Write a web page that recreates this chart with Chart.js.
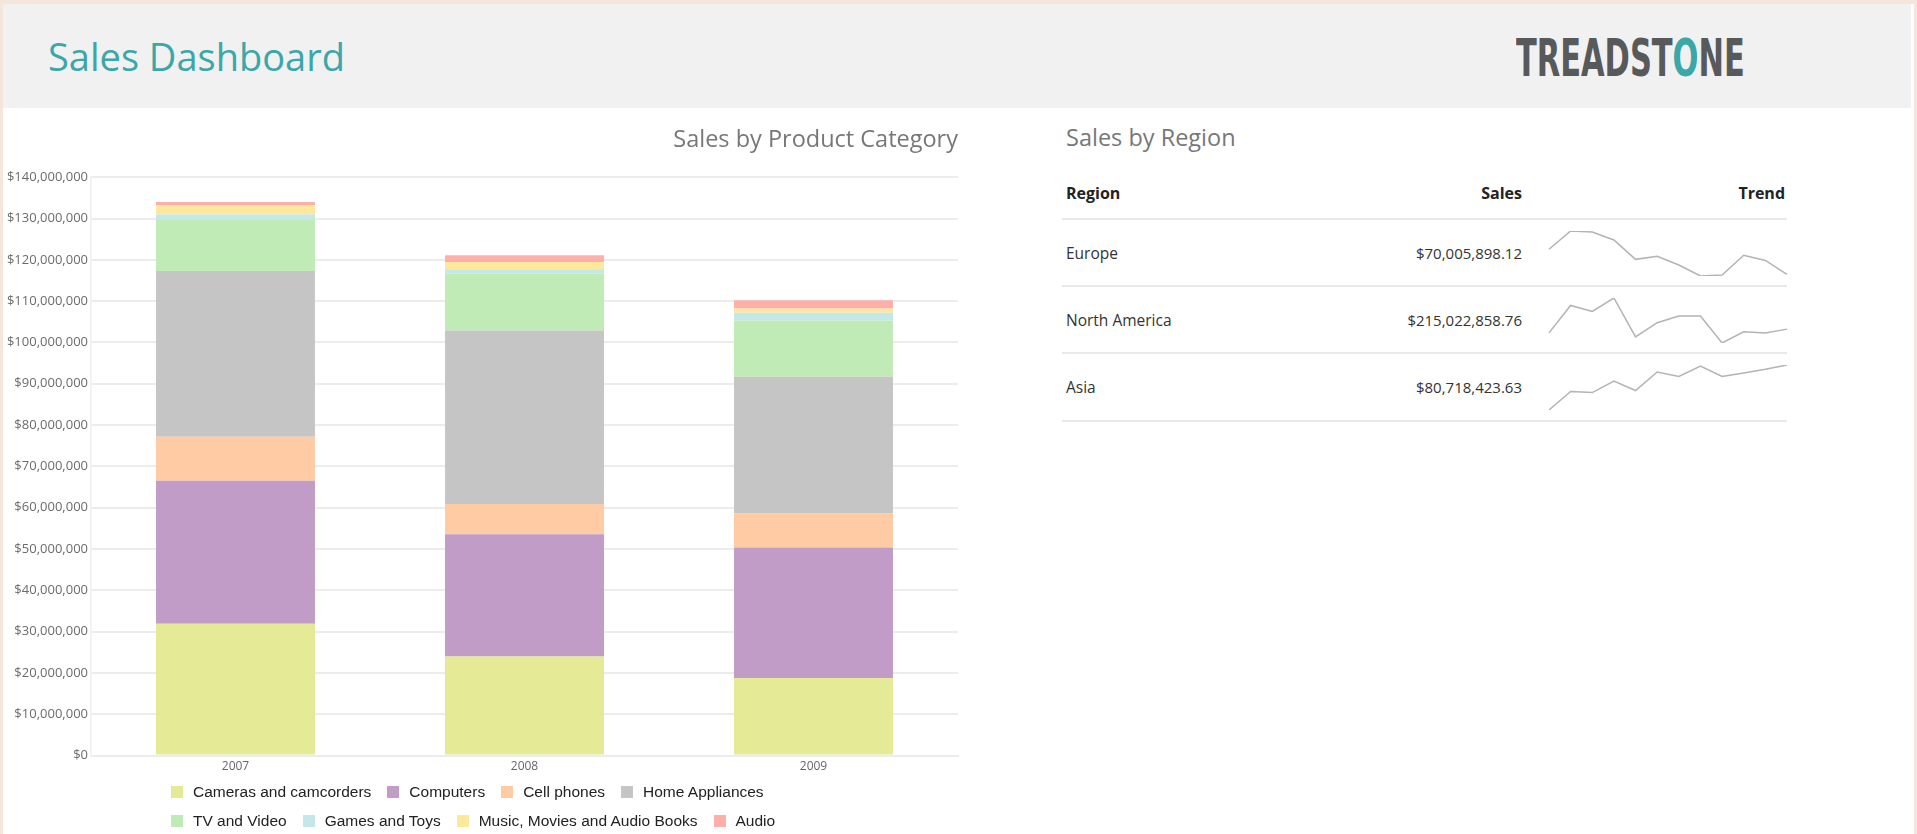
<!DOCTYPE html>
<html>
<head>
<meta charset="utf-8">
<title>Sales Dashboard</title>
<script src="https://cdn.jsdelivr.net/npm/chart.js@4.4.1/dist/chart.umd.min.js"></script>
<style>
  html, body { margin: 0; padding: 0; background: #fff; overflow: hidden; }
  body { width: 1917px; height: 834px; position: relative; font-family: 'Open Sans', sans-serif; }
  .frame { position: absolute; left: 0; top: 0; width: 1917px; height: 834px; box-sizing: border-box;
           border-top: 4px solid #f4e6da; border-left: 3px solid #f4e6da; border-right: 3px solid #f4e6da; }
  .header { position: absolute; left: 3px; top: 4px; width: 1908px; height: 104px; background: #f1f1f1; }
  .title { position: absolute; left: 45px; top: 27px; height: 50px; line-height: 50px; font-size: 38px; color: #3aa7a8; }
  .logo { position: absolute; left: 1513px; top: 29px; height: 52px; line-height: 52px; font-size: 51px;
          font-family: 'DejaVu Sans Condensed', 'DejaVu Sans', sans-serif; font-weight: bold; color: #58595b;
          transform-origin: 0 50%; white-space: nowrap; }
  .logo span { color: #3aa7a8; }
  .txt { position: absolute; height: 30px; line-height: 30px; white-space: nowrap; }
  .right { text-align: right; }
  .hline { position: absolute; left: 1062px; width: 725px; height: 2px; background: #e9e9e9; }
  .spark { position: absolute; left: 1548px; width: 240px; height: 47px; }
  #barBox { position: absolute; left: 3px; top: 116px; width: 960px; height: 662px; }
  #legend { position: absolute; left: 171px; top: 777px; width: 640px; display: flex; flex-wrap: wrap;
            font-family: 'Liberation Sans', Arial, sans-serif; font-size: 15.5px; color: #222; }
  #legend .item { display: flex; align-items: center; height: 29px; margin-right: 16px; white-space: nowrap; }
  #legend .box { width: 12px; height: 12px; margin-right: 10px; }
</style>
</head>
<body>
<div class="frame"></div>
<div class="header">
  <div class="title">Sales Dashboard</div>
  <div class="logo" id="logo">TREADST<span>O</span>NE</div>
</div>

<div id="barBox"><canvas id="salesByCategory"></canvas></div>
<div id="legend"></div>

<div class="txt" style="left:1066px; top:122px; font-size:23.5px; color:#777;">Sales by Region</div>
<div class="txt" style="left:1066px; top:178px; font-size:16px; font-weight:bold; color:#222;">Region</div>
<div class="txt right" style="left:1322px; width:200px; top:178px; font-size:16px; font-weight:bold; color:#222;">Sales</div>
<div class="txt right" style="left:1585px; width:200px; top:178px; font-size:16px; font-weight:bold; color:#222;">Trend</div>
<div id="regionRows"></div>

<script>
const years = ['2007', '2008', '2009'];
const categoryNames = ['Cameras and camcorders', 'Computers', 'Cell phones', 'Home Appliances',
  'TV and Video', 'Games and Toys', 'Music, Movies and Audio Books', 'Audio'];
const camerasAndCamcorders = [31900000, 24000000, 18800000];
const computers = [34600000, 29600000, 31600000];
const cellPhones = [10700000, 7300000, 8200000];
const homeAppliances = [40100000, 42000000, 33100000];
const tvAndVideo = [12500000, 13800000, 13600000];
const gamesAndToys = [1200000, 1000000, 1900000];
const musicMoviesAudioBooks = [2200000, 1800000, 1000000];
const audio = [800000, 1600000, 2000000];
const categoryColors = ['#e5ea96', '#c09cc6', '#fecba4', '#c5c5c5', '#c0ebb6', '#c2e8ea', '#fde89b', '#ffafaa'];
const yMax = 140000000;
const yStep = 10000000;

const regions = ['Europe', 'North America', 'Asia'];
const regionSales = ['$70,005,898.12', '$215,022,858.76', '$80,718,423.63'];
const europeTrend = [6.28, 7.50, 7.43, 6.90, 5.61, 5.81, 5.23, 4.50, 4.57, 5.88, 5.54, 4.61];
const northAmericaTrend = [15.85, 19.51, 18.70, 20.50, 15.31, 17.21, 18.11, 18.11, 14.50, 15.99, 15.85, 16.35];
const asiaTrend = [5.00, 6.23, 6.16, 6.93, 6.30, 7.53, 7.24, 7.93, 7.24, 7.46, 7.71, 8.00];
const months = ['Jan', 'Feb', 'Mar', 'Apr', 'May', 'Jun', 'Jul', 'Aug', 'Sep', 'Oct', 'Nov', 'Dec'];

// squeeze the logo text into its box
const logo = document.getElementById('logo');
logo.style.transform = 'scaleX(' + (229 / logo.scrollWidth) + ')';

const seriesValues = [camerasAndCamcorders, computers, cellPhones, homeAppliances,
  tvAndVideo, gamesAndToys, musicMoviesAudioBooks, audio];

const barChart = new Chart(document.getElementById('salesByCategory'), {
  type: 'bar',
  data: {
    labels: years,
    datasets: categoryNames.map((name, i) => ({
      label: name,
      data: seriesValues[i],
      backgroundColor: categoryColors[i],
      borderWidth: 0,
      barPercentage: 0.55,
      categoryPercentage: 1
    }))
  },
  options: {
    responsive: true,
    maintainAspectRatio: false,
    animation: false,
    layout: { padding: { left: 3, right: 5, top: 0, bottom: 0 } },
    scales: {
      x: {
        stacked: true,
        grid: { display: false, drawTicks: false },
        border: { color: '#ececec', width: 2 },
        ticks: { color: '#666', font: { family: 'Open Sans', size: 12 }, padding: 4 }
      },
      y: {
        stacked: true,
        min: 0,
        max: yMax,
        afterFit: scale => { scale.width = 85; },
        grid: { color: '#ececec', lineWidth: 2, drawTicks: false },
        border: { color: '#f2f2f2', width: 2 },
        ticks: {
          stepSize: yStep,
          color: '#6b6b6b',
          padding: 3,
          font: { family: 'Open Sans', size: 13 },
          callback: v => '$' + v.toLocaleString('en-US')
        }
      }
    },
    plugins: {
      title: {
        display: true,
        text: 'Sales by Product Category',
        align: 'end',
        color: '#777',
        font: { family: 'Open Sans', size: 23.5, weight: 'normal' },
        padding: { top: 10.5, bottom: 22.5 }
      },
      legend: { display: false },
      tooltip: { enabled: false }
    }
  }
});

// html legend under the chart, built from the chart's own legend items
const legendDiv = document.getElementById('legend');
Chart.defaults.plugins.legend.labels.generateLabels(barChart).forEach(item => {
  legendDiv.insertAdjacentHTML('beforeend',
    '<div class="item"><span class="box" style="background:' + item.fillStyle + '"></span>' + item.text + '</div>');
});

// region table with sparklines
const trends = [europeTrend, northAmericaTrend, asiaTrend];
const rowTops = [219, 286, 353];
const rowsDiv = document.getElementById('regionRows');
[218, 285, 352, 420].forEach(y => {
  const l = document.createElement('div');
  l.className = 'hline';
  l.style.top = y + 'px';
  rowsDiv.appendChild(l);
});
regions.forEach((name, i) => {
  const mid = rowTops[i] + 34;
  rowsDiv.insertAdjacentHTML('beforeend',
    '<div class="txt" style="left:1066px; top:' + (mid - 15) + 'px; font-size:15.5px; color:#333;">' + name + '</div>' +
    '<div class="txt right" style="left:1322px; width:200px; top:' + (mid - 15) + 'px; font-size:15px; color:#333;">' + regionSales[i] + '</div>' +
    '<div class="spark" style="top:' + (rowTops[i] + 11) + 'px;"><canvas id="spark' + i + '"></canvas></div>');
  const vals = trends[i];
  new Chart(document.getElementById('spark' + i), {
    type: 'line',
    data: {
      labels: months,
      datasets: [{ data: vals, borderColor: '#b3b3b3', borderWidth: 1.5, pointRadius: 0, tension: 0, fill: false }]
    },
    options: {
      responsive: true,
      maintainAspectRatio: false,
      animation: false,
      layout: { padding: 1 },
      scales: {
        x: { display: false },
        y: { display: false, min: Math.min(...vals), max: Math.max(...vals) }
      },
      plugins: { legend: { display: false }, tooltip: { enabled: false } }
    }
  });
});
</script>
</body>
</html>
